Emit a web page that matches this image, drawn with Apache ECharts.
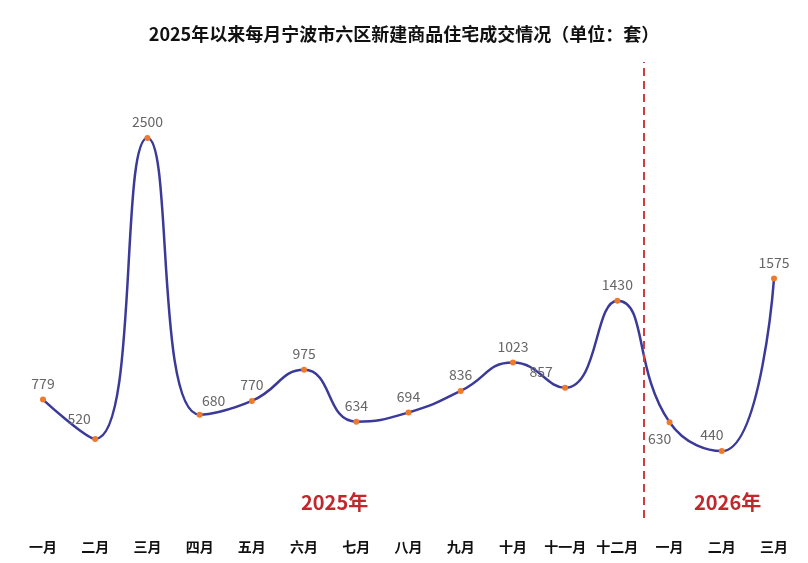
<!DOCTYPE html>
<html>
<head>
    <meta charset="UTF-8">
    <title>宁波市六区新建商品住宅成交</title>
    <script src="https://cdn.jsdelivr.net/npm/echarts@6/dist/echarts.min.js"></script>
    <style>
        html, body { margin: 0; padding: 0; background: #fff; }
        #main { width: 808px; height: 563px; }
    </style>
</head>
<body>
<div id="main"></div>
<script type="text/javascript">
    // 月份（2025年一月 ~ 2026年三月）
    var months = ['一月', '二月', '三月', '四月', '五月', '六月', '七月', '八月', '九月', '十月', '十一月', '十二月', '一月', '二月', '三月'];
    // 成交套数
    var deals = [779, 520, 2500, 680, 770, 975, 634, 694, 836, 1023, 857, 1430, 630, 440, 1575];
    // 年份分界线位置（十二月与一月之间）
    var yearSplit = 11.5;

    // 个别标签挪一下位置，避免压线
    var labelTweak = {
        1: { offset: [-16, -4] },
        3: { offset: [14, 2] },
        10: { offset: [-24, 0] },
        12: { position: 'bottom', offset: [-10, 0] },
        13: { offset: [-10, 0] }
    };

    var font = '"Noto Sans CJK SC", "Noto Sans", sans-serif';

    var chart = echarts.init(document.getElementById('main'));
    var option = {
        backgroundColor: '#fff',
        animation: false,
        title: [
            {
                text: '2025年以来每月宁波市六区新建商品住宅成交情况（单位：套）',
                left: 'center',
                top: 20,
                textStyle: { fontFamily: font, fontSize: 18, fontWeight: 'bold', color: '#111' }
            },
            {
                text: '2025年',
                left: 296,
                top: 487,
                textStyle: { fontFamily: font, fontSize: 20, fontWeight: 'bold', color: '#c0282d' }
            },
            {
                text: '2026年',
                left: 689,
                top: 487,
                textStyle: { fontFamily: font, fontSize: 20, fontWeight: 'bold', color: '#c0282d' }
            }
        ],
        grid: { left: 43, right: 34, top: 62, bottom: 45 },
        xAxis: [
            {
                type: 'category',
                data: months,
                boundaryGap: false,
                axisLine: { show: false },
                axisTick: { show: false },
                axisLabel: {
                    interval: 0,
                    margin: 22,
                    fontFamily: font,
                    fontSize: 14,
                    fontWeight: 'bold',
                    color: '#111'
                }
            },
            {
                type: 'value',
                min: 0,
                max: months.length - 1,
                show: false
            }
        ],
        yAxis: {
            type: 'value',
            min: 0,
            max: 3000,
            show: false
        },
        series: [
            {
                type: 'line',
                smooth: 0.5,
                data: deals.map(function (v, i) {
                    var item = { value: v };
                    if (labelTweak[i]) item.label = labelTweak[i];
                    return item;
                }),
                symbol: 'circle',
                symbolSize: 6,
                lineStyle: { color: '#3b3a98', width: 2.5 },
                itemStyle: { color: '#ee7a2c' },
                label: {
                    show: true,
                    position: 'top',
                    distance: 6,
                    fontFamily: font,
                    fontSize: 14,
                    color: '#666'
                }
            },
            {
                // 只用来画年份分界虚线
                type: 'line',
                xAxisIndex: 1,
                data: [],
                markLine: {
                    silent: true,
                    symbol: 'none',
                    label: { show: false },
                    lineStyle: { color: '#d23c3c', type: [8, 5], width: 2 },
                    data: [{ xAxis: yearSplit }]
                }
            }
        ]
    };
    chart.setOption(option);
</script>
</body>
</html>
